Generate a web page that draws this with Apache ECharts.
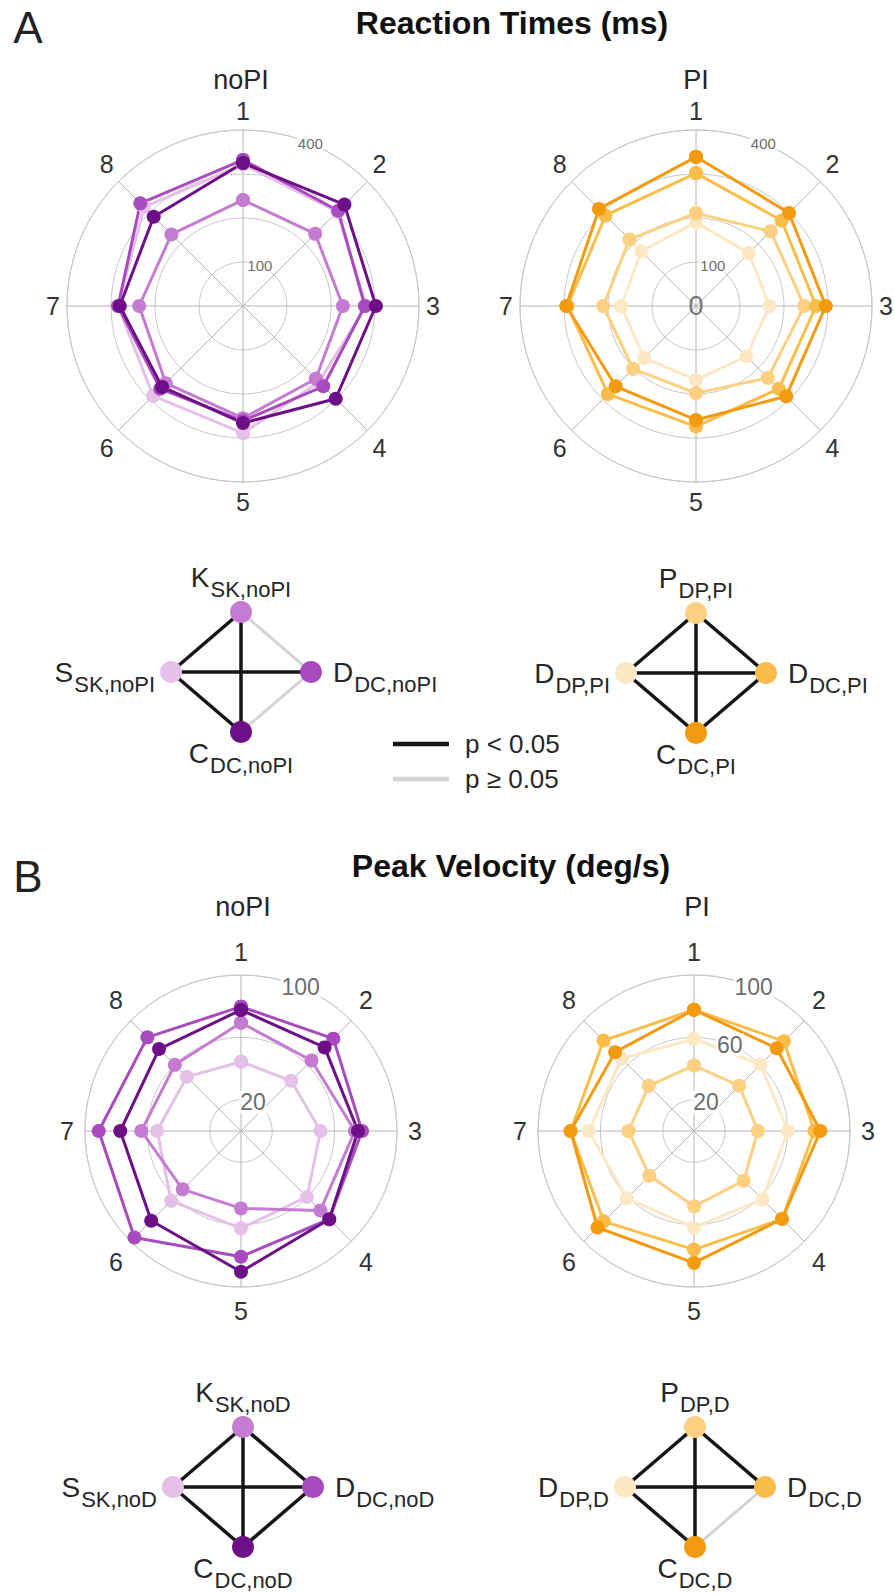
<!DOCTYPE html>
<html>
<head>
<meta charset="utf-8">
<script src="https://cdn.jsdelivr.net/npm/echarts@6/dist/echarts.min.js"></script>
<style>
  html, body { margin: 0; padding: 0; background: #fff; }
  #chart { width: 894px; height: 1593px; }
</style>
</head>
<body>
<div id="chart"></div>
<script>
// Movement directions (angular categories of every radar panel)
const directions = ['1', '2', '3', '4', '5', '6', '7', '8'];

// Reaction times (ms) without perturbation
const rtNoPI_S = [322, 303, 280, 244, 289, 289, 284, 318];
const rtNoPI_K = [241, 232, 227, 234, 255, 248, 236, 230];
const rtNoPI_D = [332, 306, 277, 258, 261, 266, 284, 330];
const rtNoPI_C = [325, 326, 302, 298, 266, 260, 280, 287];

// Reaction times (ms) with perturbation
const rtPI_DDP = [190, 170, 167, 162, 168, 167, 170, 176];
const rtPI_P   = [211, 240, 246, 231, 198, 202, 211, 214];
const rtPI_DDC = [302, 275, 273, 266, 274, 283, 292, 291];
const rtPI_C   = [339, 299, 295, 290, 259, 258, 295, 312];

// Peak velocity (deg/s) without perturbation
const pvNoPI_S = [44.4, 45.5, 51.0, 59.8, 62.4, 63.3, 53.8, 49.1];
const pvNoPI_K = [69.4, 63.9, 73.0, 72.0, 49.6, 52.9, 63.9, 60.0];
const pvNoPI_D = [79.7, 83.7, 77.6, 80.0, 80.6, 96.6, 91.2, 84.9];
const pvNoPI_C = [77.6, 75.8, 75.0, 80.0, 90.2, 81.4, 77.4, 74.3];

// Peak velocity (deg/s) with perturbation
const pvPI_P   = [42.0, 41.0, 41.0, 45.0, 48.3, 40.5, 42.0, 41.0];
const pvPI_DDP = [59.0, 60.3, 60.2, 62.0, 62.0, 61.0, 67.4, 65.7];
const pvPI_DDC = [77.7, 81.4, 77.2, 79.8, 76.0, 81.9, 79.1, 82.0];
const pvPI_C   = [77.7, 75.0, 81.0, 79.8, 84.5, 87.5, 79.1, 71.5];

// Radial scales: drawn rings and labelled ticks
const rtRings = [100, 200, 300, 400];
const pvRings = [20, 60, 100];
const rtNoPITicks = [100, 400];
const rtPITicks = [0, 100, 400];
const pvNoPITicks = [20, 100];
const pvPITicks = [20, 60, 100];

// Pairwise comparison diagrams: [letter, subscript] for top, left, right, bottom nodes
const rtNoPINodes = [['K', 'SK,noPI'], ['S', 'SK,noPI'], ['D', 'DC,noPI'], ['C', 'DC,noPI']];
const rtPINodes   = [['P', 'DP,PI'], ['D', 'DP,PI'], ['D', 'DC,PI'], ['C', 'DC,PI']];
const pvNoPINodes = [['K', 'SK,noD'], ['S', 'SK,noD'], ['D', 'DC,noD'], ['C', 'DC,noD']];
const pvPINodes   = [['P', 'DP,D'], ['D', 'DP,D'], ['D', 'DC,D'], ['C', 'DC,D']];
// [node a, node b, p < 0.05]
const rtNoPILinks = [[0, 1, true], [0, 3, true], [0, 2, false], [1, 2, true], [1, 3, true], [2, 3, false]];
const rtPILinks   = [[0, 1, true], [0, 3, true], [0, 2, true], [1, 2, true], [1, 3, true], [2, 3, true]];
const pvNoPILinks = [[0, 1, true], [0, 3, true], [0, 2, true], [1, 2, true], [1, 3, true], [2, 3, true]];
const pvPILinks   = [[0, 1, true], [0, 3, true], [0, 2, true], [1, 2, true], [1, 3, true], [2, 3, false]];
const legendLabels = ['p < 0.05', 'p \u2265 0.05'];

// ---------- styling ----------
const FONT = '"Liberation Sans", Arial, Helvetica, sans-serif';
const TEXT = '#262626';
const RING = '#c8c8c8';
const SPOKE = '#b4b4b4';
const SIG = '#151515';
const NS = '#d4d4d4';
const purple = { S: '#e5c0e8', K: '#c47bd1', D: '#a84bbe', C: '#6d1087' };
const orange = { DDP: '#fde8c4', P: '#fdcf80', DDC: '#fbbd4a', C: '#f39b10' };

const STEP = 360 / directions.length;
const TICK_ANGLE = STEP / 2;

const panels = [
  { center: [243, 306], radius: 176, max: 400, interval: 100, rings: rtRings, ticks: rtNoPITicks,
    tickFont: 15, margin: 7, dirFont: 25,
    lines: [[rtNoPI_S, purple.S], [rtNoPI_K, purple.K], [rtNoPI_D, purple.D], [rtNoPI_C, purple.C]] },
  { center: [696, 306], radius: 176, max: 400, interval: 100, rings: rtRings, ticks: rtPITicks,
    tickFont: 15, margin: 7, dirFont: 25,
    lines: [[rtPI_DDP, orange.DDP], [rtPI_P, orange.P], [rtPI_DDC, orange.DDC], [rtPI_C, orange.C]] },
  { center: [241, 1131], radius: 156, max: 100, interval: 20, rings: pvRings, ticks: pvNoPITicks,
    tickFont: 23, margin: 11, dirFont: 25,
    lines: [[pvNoPI_S, purple.S], [pvNoPI_K, purple.K], [pvNoPI_D, purple.D], [pvNoPI_C, purple.C]] },
  { center: [694, 1131], radius: 156, max: 100, interval: 20, rings: pvRings, ticks: pvPITicks,
    tickFont: 23, margin: 11, dirFont: 25,
    lines: [[pvPI_DDP, orange.DDP], [pvPI_P, orange.P], [pvPI_DDC, orange.DDC], [pvPI_C, orange.C]] }
];

const diagrams = [
  { center: [241, 672], nodes: rtNoPINodes, links: rtNoPILinks, colors: [purple.K, purple.S, purple.D, purple.C] },
  { center: [696, 673], nodes: rtPINodes, links: rtPILinks, colors: [orange.P, orange.DDP, orange.DDC, orange.C] },
  { center: [243, 1487], nodes: pvNoPINodes, links: pvNoPILinks, colors: [purple.K, purple.S, purple.D, purple.C] },
  { center: [695, 1487], nodes: pvPINodes, links: pvPILinks, colors: [orange.P, orange.DDP, orange.DDC, orange.C] }
];
const diamond = [[0, 1], [-1, 0], [1, 0], [0, -1]];
const labelPos = ['top', 'left', 'right', 'bottom'];
const labelDist = [10, 5, 11, -4];
const HALF_W = 70, HALF_H = 60;

function closedLoop(vals) {
  const pts = vals.map((v, i) => [v, i * STEP]);
  pts.push([vals[0], 360]);
  return pts;
}

const polar = [], angleAxis = [], radiusAxis = [], series = [];
panels.forEach((p, i) => {
  polar.push({ center: p.center, radius: p.radius });
  angleAxis.push({
    polarIndex: i, type: 'value', min: 0, max: 360, interval: STEP,
    startAngle: 90, clockwise: true,
    axisLine: { show: true, lineStyle: { color: RING, width: 1 } },
    axisTick: { show: false },
    splitLine: { show: true, lineStyle: { color: SPOKE, width: 1 } },
    axisLabel: {
      show: true, margin: p.margin, fontSize: p.dirFont, color: '#333', fontFamily: FONT,
      formatter: v => directions[Math.round(v / STEP)] || ''
    }
  });
  const ringColors = [];
  for (let v = 0; v <= p.max; v += p.interval) {
    ringColors.push(p.rings.indexOf(v) >= 0 ? RING : 'rgba(0,0,0,0)');
  }
  radiusAxis.push({
    polarIndex: i, type: 'value', min: 0, max: p.max, interval: p.interval,
    axisLine: { show: false }, axisTick: { show: false }, axisLabel: { show: false },
    splitLine: { show: true, lineStyle: { color: ringColors, width: 1 } }
  });
  p.lines.forEach(([vals, color]) => {
    series.push({
      type: 'line', coordinateSystem: 'polar', polarIndex: i,
      data: closedLoop(vals),
      symbol: 'circle', symbolSize: 14, showSymbol: true,
      lineStyle: { color: color, width: 3 },
      itemStyle: { color: color },
      clip: false, silent: true, animation: false, z: 2
    });
  });
  series.push({
    type: 'scatter', coordinateSystem: 'polar', polarIndex: i,
    symbolSize: 1, itemStyle: { color: 'rgba(0,0,0,0)' },
    data: p.ticks.map(v => v === 0
      ? { value: [v, TICK_ANGLE], label: { fontSize: 27, color: '#555', backgroundColor: 'transparent' } }
      : { value: [v, TICK_ANGLE] }),
    label: {
      show: true, position: 'inside', formatter: q => String(q.value[0]),
      fontSize: p.tickFont, color: '#444', fontFamily: FONT,
      backgroundColor: '#fff', padding: [0, 1]
    },
    silent: true, animation: false, z: 5
  });
});

const grid = [], xAxis = [], yAxis = [];
diagrams.forEach((d, k) => {
  grid.push({ left: d.center[0] - HALF_W, top: d.center[1] - HALF_H, width: 2 * HALF_W, height: 2 * HALF_H });
  xAxis.push({ gridIndex: k, type: 'value', min: -1, max: 1, show: false });
  yAxis.push({ gridIndex: k, type: 'value', min: -1, max: 1, show: false });
  series.push({
    type: 'graph', coordinateSystem: 'cartesian2d', xAxisIndex: k, yAxisIndex: k, layout: 'none',
    symbol: 'circle', symbolSize: 22,
    data: d.nodes.map((n, i) => ({
      name: n[0] + '_' + n[1] + '_' + i, value: diamond[i], letter: n[0], sub: n[1],
      itemStyle: { color: d.colors[i] },
      label: { position: labelPos[i], distance: labelDist[i] }
    })),
    links: d.links.slice().sort((a, b) => a[2] - b[2]).map(([a, b, sig]) => ({
      source: a, target: b,
      lineStyle: { color: sig ? SIG : NS, width: sig ? 3.5 : 3, opacity: 1, curveness: 0 }
    })),
    edgeSymbol: ['none', 'none'],
    label: {
      show: true,
      formatter: q => '{m|' + q.data.letter + '}{s|' + q.data.sub + '}',
      rich: {
        m: { fontSize: 28, color: TEXT, fontFamily: FONT, verticalAlign: 'top', lineHeight: 28 },
        s: { fontSize: 22, color: TEXT, fontFamily: FONT, verticalAlign: 'top', lineHeight: 22, padding: [15, 0, 0, 1] }
      }
    },
    silent: true, animation: false, z: 3
  });
});

function txt(x, y, text, size, weight, color) {
  return {
    type: 'text', x: x, y: y, silent: true,
    style: { text: text, fontSize: size, fontWeight: weight || 'normal', fontFamily: FONT,
             fill: color || TEXT, align: 'center', verticalAlign: 'middle' }
  };
}

const graphic = [
  txt(28, 27, 'A', 44, 'normal', '#222'),
  txt(512, 23, 'Reaction Times (ms)', 32, 'bold', '#111'),
  txt(241, 80, 'noPI', 27),
  txt(696, 80, 'PI', 27),
  txt(28, 876, 'B', 44, 'normal', '#222'),
  txt(511, 866, 'Peak Velocity (deg/s)', 32, 'bold', '#111'),
  txt(243, 907, 'noPI', 27),
  txt(697, 907, 'PI', 27),
  { type: 'line', silent: true, shape: { x1: 393, y1: 744, x2: 449, y2: 744 }, style: { stroke: SIG, lineWidth: 4.5 } },
  { type: 'line', silent: true, shape: { x1: 393, y1: 779, x2: 449, y2: 779 }, style: { stroke: NS, lineWidth: 4.5 } },
  { type: 'text', x: 465, y: 744, silent: true, style: { text: legendLabels[0], fontSize: 26, fontFamily: FONT, fill: TEXT, align: 'left', verticalAlign: 'middle' } },
  { type: 'text', x: 465, y: 779, silent: true, style: { text: legendLabels[1], fontSize: 26, fontFamily: FONT, fill: TEXT, align: 'left', verticalAlign: 'middle' } }
];

const chart = echarts.init(document.getElementById('chart'), null, { renderer: 'svg', width: 894, height: 1593 });
chart.setOption({
  backgroundColor: '#ffffff',
  animation: false,
  textStyle: { fontFamily: FONT },
  polar: polar,
  angleAxis: angleAxis,
  radiusAxis: radiusAxis,
  grid: grid,
  xAxis: xAxis,
  yAxis: yAxis,
  series: series,
  graphic: graphic
});
</script>
</body>
</html>
